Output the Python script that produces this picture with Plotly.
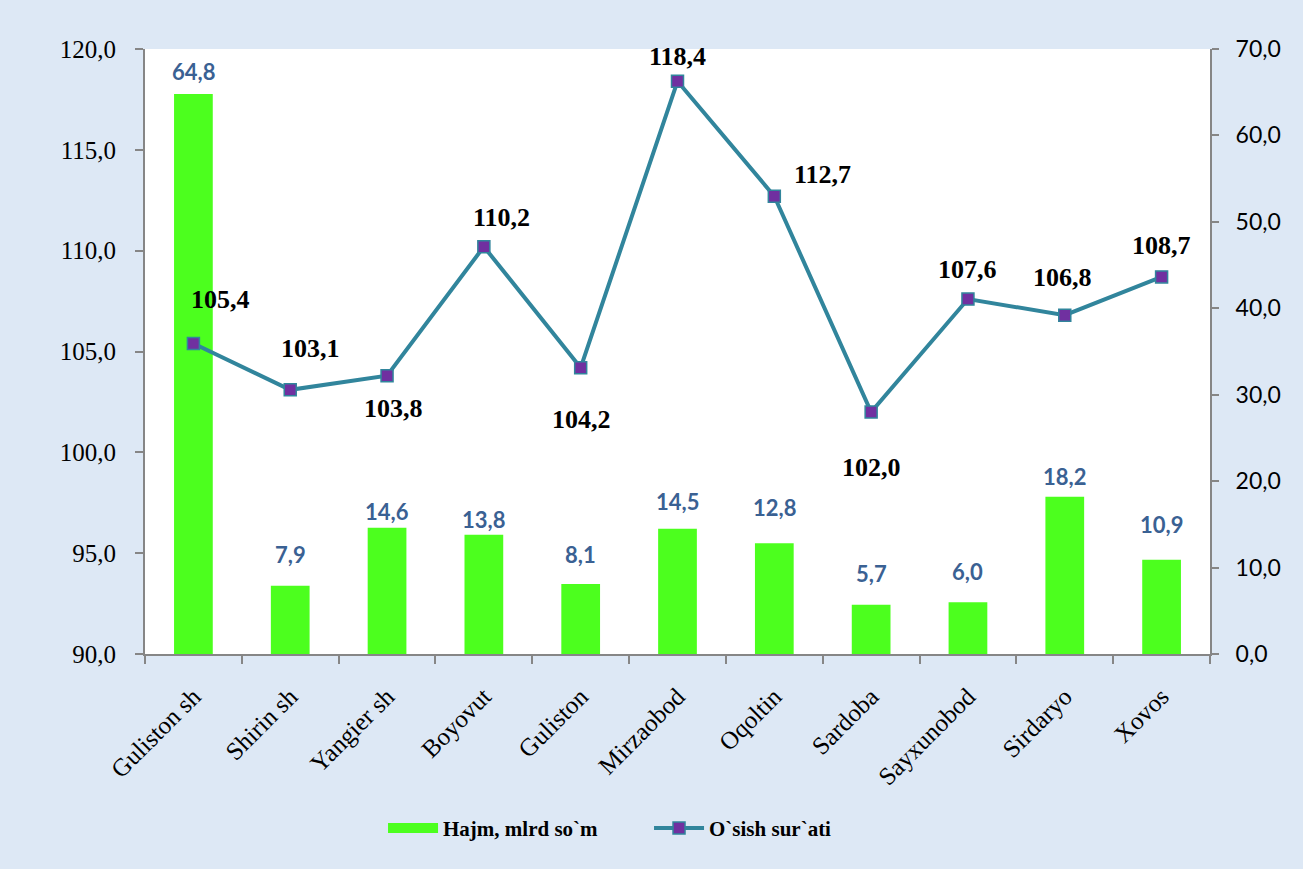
import plotly.graph_objects as go

categories = ["Guliston sh", "Shirin sh", "Yangier sh", "Boyovut", "Guliston",
              "Mirzaobod", "Oqoltin", "Sardoba", "Sayxunobod", "Sirdaryo", "Xovos"]
volume = [64.8, 7.9, 14.6, 13.8, 8.1, 14.5, 12.8, 5.7, 6.0, 18.2, 10.9]
growth = [105.4, 103.1, 103.8, 110.2, 104.2, 118.4, 112.7, 102.0, 107.6, 106.8, 108.7]

bar_name = "Hajm, mlrd so`m"
line_name = "O`sish sur`ati"

# label placement offsets (pixels)
bar_label_shift = [22, 31, 16, 15, 29, 27, 36, 31, 31, 20, 35]
line_label_dx = [27, 20, 6, 18, 1, 0, 48, 0, 0, -2, 0]
line_label_dy = [44, 41, -33, 29, -52, 25, 22, -55, 30, 38, 31]

fmt = lambda v: f"{v:.1f}".replace(".", ",")

SERIF = "Liberation Serif, Times New Roman, serif"
SANS = "Lato, Open Sans, sans-serif"
BAR_COL = "#4CFF1E"
LINE_COL = "#31859C"

fig = go.Figure()
fig.add_trace(go.Bar(
    x=categories, y=volume, name=bar_name, yaxis="y", showlegend=False,
    marker=dict(color=BAR_COL, line=dict(width=0)), width=0.40,
))
fig.add_trace(go.Scatter(
    x=[categories[0]], y=[None], name=bar_name, yaxis="y", mode="lines",
    line=dict(color=BAR_COL, width=11), showlegend=True,
))
fig.add_trace(go.Scatter(
    x=categories, y=growth, name=line_name, yaxis="y2", mode="lines+markers",
    line=dict(color=LINE_COL, width=4),
    marker=dict(symbol="square", size=12, color="#7030A0",
                line=dict(color=LINE_COL, width=1.5)),
))

annotations = []
for c, v, s in zip(categories, volume, bar_label_shift):
    annotations.append(dict(
        x=c, y=v, xref="x", yref="y", text=fmt(v), showarrow=False,
        yshift=s, yanchor="middle",
        font=dict(family=SANS, size=22, color="#3A6193", weight="bold"),
    ))
for c, v, dx, dy in zip(categories, growth, line_label_dx, line_label_dy):
    annotations.append(dict(
        x=c, y=v, xref="x", yref="y2", text=fmt(v), showarrow=False,
        xshift=dx, yshift=dy, yanchor="middle",
        font=dict(family=SERIF, size=26, color="black", weight="bold"),
    ))

axis_col = "#868686"
fig.update_layout(
    width=1303, height=869,
    margin=dict(l=145, r=93, t=49, b=215),
    paper_bgcolor="#DDE8F5", plot_bgcolor="white",
    separators=", ",
    showlegend=True,
    legend=dict(orientation="h", x=0.2235, y=-0.288, xanchor="left", yanchor="middle",
                bgcolor="rgba(0,0,0,0)",
                font=dict(family=SERIF, size=21, color="black", weight="bold"),
                traceorder="normal", itemwidth=50,
                entrywidth=201, entrywidthmode="pixels"),
    xaxis=dict(
        type="category", range=[-0.5, len(categories) - 0.5],
        tickangle=-45, tickson="boundaries",
        ticks="outside", ticklen=8, tickcolor=axis_col, tickwidth=2,
        showline=True, linecolor=axis_col, linewidth=2, showgrid=False,
        ticklabelstandoff=16,
        tickfont=dict(family=SERIF, size=25, color="black"),
    ),
    yaxis=dict(
        side="right", range=[0, 70], dtick=10, tickformat=".1f",
        ticks="outside", ticklen=7, tickcolor=axis_col, tickwidth=2,
        showline=True, linecolor=axis_col, linewidth=2, showgrid=False, zeroline=False,
        ticklabelstandoff=12,
        tickfont=dict(family=SANS, size=23, color="black"),
    ),
    yaxis2=dict(
        overlaying="y", side="left", range=[90, 120], dtick=5, tickformat=".1f",
        ticks="outside", ticklen=8, tickcolor=axis_col, tickwidth=2,
        showline=True, linecolor=axis_col, linewidth=2, showgrid=False, zeroline=False,
        ticklabelstandoff=14,
        tickfont=dict(family=SERIF, size=25, color="black"),
    ),
    annotations=annotations,
)

fig.write_html("out.html", config={"displayModeBar": False},
               post_script="document.body.style.margin='0';")
